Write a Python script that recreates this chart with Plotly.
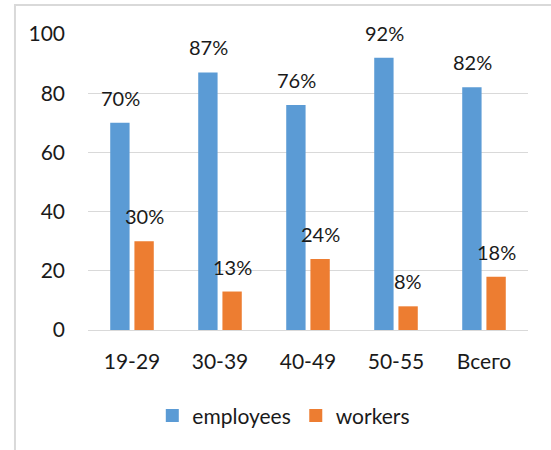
import plotly.graph_objects as go

# Age groups and share (%) of each staff type
categories = ["19-29", "30-39", "40-49", "50-55", "Всего"]
employees = [70, 87, 76, 92, 82]
workers = [30, 13, 24, 8, 18]
y_ticks = [0, 20, 40, 60, 80, 100]

BLUE = "#5B9BD5"
ORANGE = "#ED7D31"
GRID = "#D9D9D9"
TEXT = "#1A1A1A"
FONT = "Lato"

fig = go.Figure()
fig.add_trace(go.Bar(name="employees", x=categories, y=employees, showlegend=False,
                     marker=dict(color=BLUE, line=dict(width=0))))
fig.add_trace(go.Bar(name="workers", x=categories, y=workers, showlegend=False,
                     marker=dict(color=ORANGE, line=dict(width=0))))

# Legend entries with larger square swatches
for name, color in (("employees", BLUE), ("workers", ORANGE)):
    fig.add_trace(go.Scatter(name=name, x=[None], y=[None], mode="markers",
                             marker=dict(symbol="square", size=13, color=color)))

# Percentage labels above each bar
for series, shift in ((employees, -12), (workers, 12)):
    for cat, val in zip(categories, series):
        fig.add_annotation(x=cat, y=val, text=f"{val}%", showarrow=False,
                           xref="x", yref="y", yanchor="bottom",
                           xshift=shift, yshift=11,
                           font=dict(family=FONT, size=20, color=TEXT))

# Outer chart frame
fig.add_shape(type="rect", xref="paper", yref="paper",
              x0=-0.166, x1=1.2, y0=-0.5, y1=1.098,
              line=dict(color=GRID, width=2), fillcolor="rgba(0,0,0,0)",
              layer="below")

fig.update_layout(
    width=551, height=450,
    margin=dict(l=88, r=23, t=34, b=120),
    paper_bgcolor="white", plot_bgcolor="white",
    barmode="group", bargap=0.45, bargroupgap=0.2,
    font=dict(family=FONT, size=21, color=TEXT),
    showlegend=True,
    legend=dict(orientation="h", x=0.445, xanchor="center", y=-0.29,
                yanchor="middle", font=dict(family=FONT, size=21, color=TEXT),
                itemwidth=30, traceorder="normal"),
    xaxis=dict(showgrid=False, showline=False, ticks="", ticklabelstandoff=17,
               tickfont=dict(family=FONT, size=21, color=TEXT)),
    yaxis=dict(range=[0, 100], tickvals=y_ticks, showgrid=True, gridcolor=GRID,
               gridwidth=1, zeroline=True, zerolinecolor=GRID, zerolinewidth=1,
               showline=False, ticks="", ticklabelstandoff=22,
               tickfont=dict(family=FONT, size=21, color=TEXT)),
)

fig.write_html("out.html")
